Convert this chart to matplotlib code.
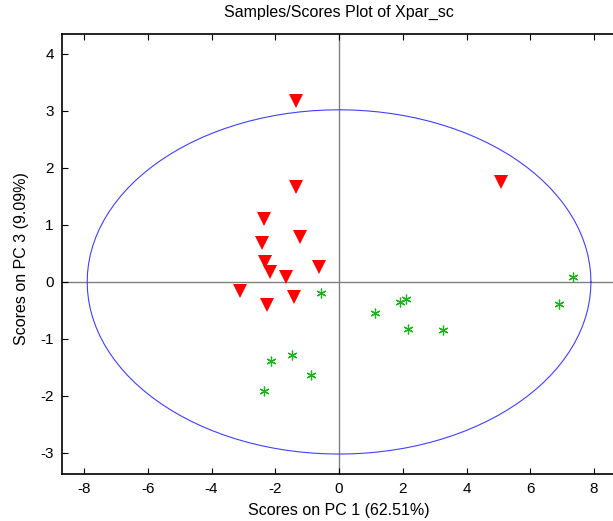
import numpy as np
import matplotlib.pyplot as plt

plt.rcParams['font.family'] = ['Liberation Sans', 'DejaVu Sans']
plt.rcParams['axes.unicode_minus'] = False

# class 1 scores (red triangles)
red_pc1 = [-1.35, -1.35, -2.35, -1.22, -2.41, -2.32, -2.16, -1.66, -0.63, -3.10, -1.41, -2.26, 5.08]
red_pc3 = [3.18, 1.67, 1.10, 0.79, 0.68, 0.35, 0.18, 0.09, 0.27, -0.16, -0.27, -0.41, 1.75]

# class 2 scores (green asterisks)
green_pc1 = [-0.57, 1.91, 2.10, 1.13, 2.17, 3.27, -2.14, -1.48, -0.89, -2.35, 7.33, 6.89]
green_pc3 = [-0.19, -0.35, -0.30, -0.55, -0.82, -0.84, -1.38, -1.28, -1.63, -1.91, 0.08, -0.39]

# 95% confidence ellipse semi-axes
ell_a = 7.9
ell_b = 3.02

xticks = [-8, -6, -4, -2, 0, 2, 4, 6, 8]
yticks = [-3, -2, -1, 0, 1, 2, 3, 4]

fig = plt.figure(figsize=(6.13, 5.21), dpi=100)
W, H = 613, 521
ax = fig.add_axes([62 / W, (H - 474) / H, (626 - 62) / W, (474 - 34) / H])

ax.axhline(0, color='#808080', lw=1.0, zorder=1)
ax.axvline(0, color='#808080', lw=1.0, zorder=1)

t = np.linspace(0, 2 * np.pi, 121)
ax.plot(ell_a * np.cos(t), ell_b * np.sin(t), color='#4040ff', lw=0.8, zorder=2)

ax.plot(red_pc1, red_pc3, linestyle='none', marker='v', color='#ff0000',
        markersize=10, markeredgewidth=0, zorder=3)
ax.plot(green_pc1, green_pc3, linestyle='none', marker=(6, 2, 0), color='#1cb01c',
        markersize=7, markeredgewidth=0.9, zorder=3)

ax.set_xlim(-8.69, 9.0)
ax.set_ylim(-3.37, 4.35)
ax.set_xticks(xticks)
ax.set_yticks(yticks)
ax.tick_params(direction='in', length=4, width=0.8, labelsize=11, top=True, right=True,
               colors='#000000', pad=6)
for s in ax.spines.values():
    s.set_linewidth(1.2)

fig.text(339 / W, 1 - 12 / H, 'Samples/Scores Plot of Xpar_sc', ha='center', va='center', fontsize=11.5)
fig.text(339 / W, 1 - 511 / H, 'Scores on PC 1 (62.51%)', ha='center', va='center', fontsize=11.5)
fig.text(22 / W, 1 - 259 / H, 'Scores on PC 3 (9.09%)', ha='center', va='center', rotation=90, fontsize=11.5)

fig.savefig('out.png', dpi=100)
